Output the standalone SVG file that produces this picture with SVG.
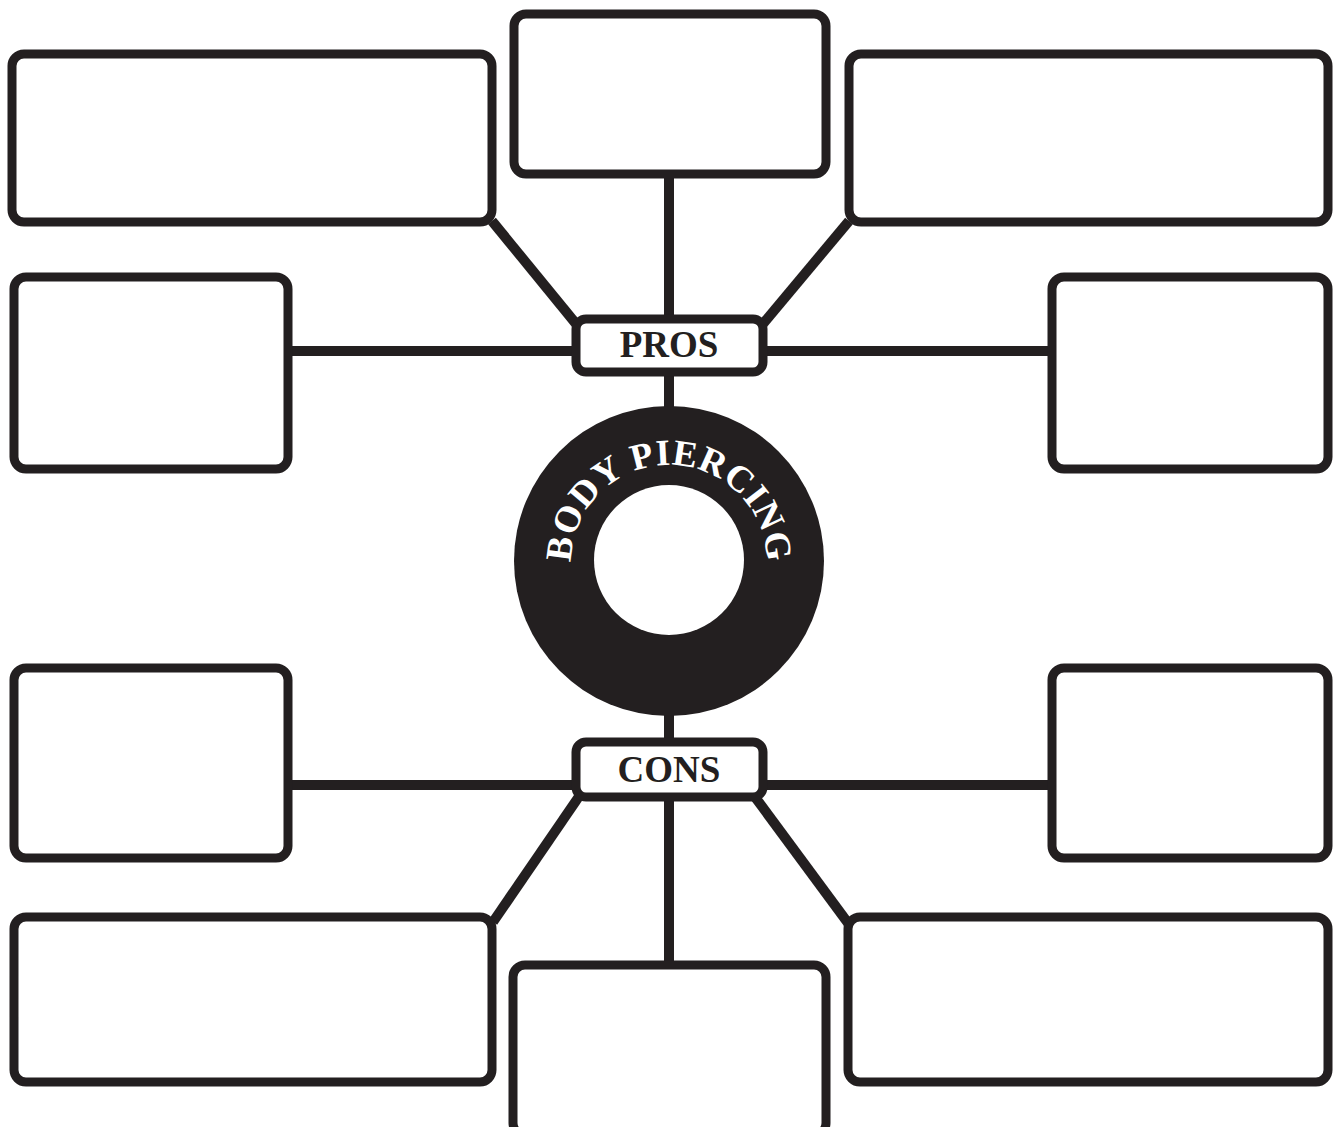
<svg xmlns="http://www.w3.org/2000/svg" xmlns:xlink="http://www.w3.org/1999/xlink" width="1338" height="1127" viewBox="0 0 1338 1127">
<style>
.box{fill:#fff;stroke:#231f20;stroke-width:9}
.ln{stroke:#231f20;stroke-width:10;fill:none}
.lbl{font-family:"Liberation Serif",serif;font-weight:bold;font-size:37px;fill:#231f20;text-anchor:middle}
.arc{font-family:"Liberation Serif",serif;font-weight:bold;font-size:37px;fill:#fff;letter-spacing:0.5px}
</style>
<defs>
<path id="arcPath" d="M 571,563 A 98 98 0 0 1 767,563"/>
</defs>
<rect width="1338" height="1127" fill="#fff"/>
<g id="connectors">
<line class="ln" x1="669" y1="174" x2="669" y2="319"/>
<line class="ln" x1="669" y1="372" x2="669" y2="410"/>
<line class="ln" x1="288" y1="351" x2="576" y2="351"/>
<line class="ln" x1="763" y1="351" x2="1052" y2="351"/>
<line class="ln" x1="492" y1="221" x2="577" y2="325"/>
<line class="ln" x1="849" y1="221" x2="762" y2="325"/>
<line class="ln" x1="669" y1="712" x2="669" y2="742"/>
<line class="ln" x1="288" y1="785" x2="576" y2="785"/>
<line class="ln" x1="763" y1="785" x2="1052" y2="785"/>
<line class="ln" x1="580" y1="795" x2="493" y2="922"/>
<line class="ln" x1="755" y1="797" x2="848" y2="923"/>
<line class="ln" x1="669" y1="797" x2="669" y2="965"/>
</g>
<g id="box-tl"><rect class="box" x="12" y="54" width="480" height="168" rx="12"/></g>
<g id="box-tc"><rect class="box" x="514" y="14" width="312" height="160" rx="12"/></g>
<g id="box-tr"><rect class="box" x="849" y="54" width="479" height="168" rx="12"/></g>
<g id="box-ml"><rect class="box" x="14" y="277" width="274" height="192" rx="12"/></g>
<g id="box-mr"><rect class="box" x="1052" y="277" width="276" height="192" rx="12"/></g>
<g id="box-ll"><rect class="box" x="14" y="668" width="274" height="190" rx="12"/></g>
<g id="box-lr"><rect class="box" x="1052" y="668" width="276" height="190" rx="12"/></g>
<g id="box-bl"><rect class="box" x="14" y="917" width="478" height="165" rx="12"/></g>
<g id="box-br"><rect class="box" x="848" y="917" width="480" height="165" rx="12"/></g>
<g id="box-bc"><rect class="box" x="513" y="965" width="313" height="170" rx="12"/></g>
<g id="pros"><rect class="box" x="576" y="319" width="187" height="53" rx="10"/><text class="lbl" x="669" y="357">PROS</text></g>
<g id="center">
<circle cx="669" cy="561" r="155" fill="#231f20"/>
<circle cx="669" cy="560" r="75" fill="#fff"/>
<text class="arc"><textPath xlink:href="#arcPath" href="#arcPath" startOffset="50%" text-anchor="middle">BODY PIERCING</textPath></text>
</g>
<g id="cons"><rect class="box" x="576" y="742" width="187" height="55" rx="10"/><text class="lbl" x="669" y="782">CONS</text></g>
</svg>
